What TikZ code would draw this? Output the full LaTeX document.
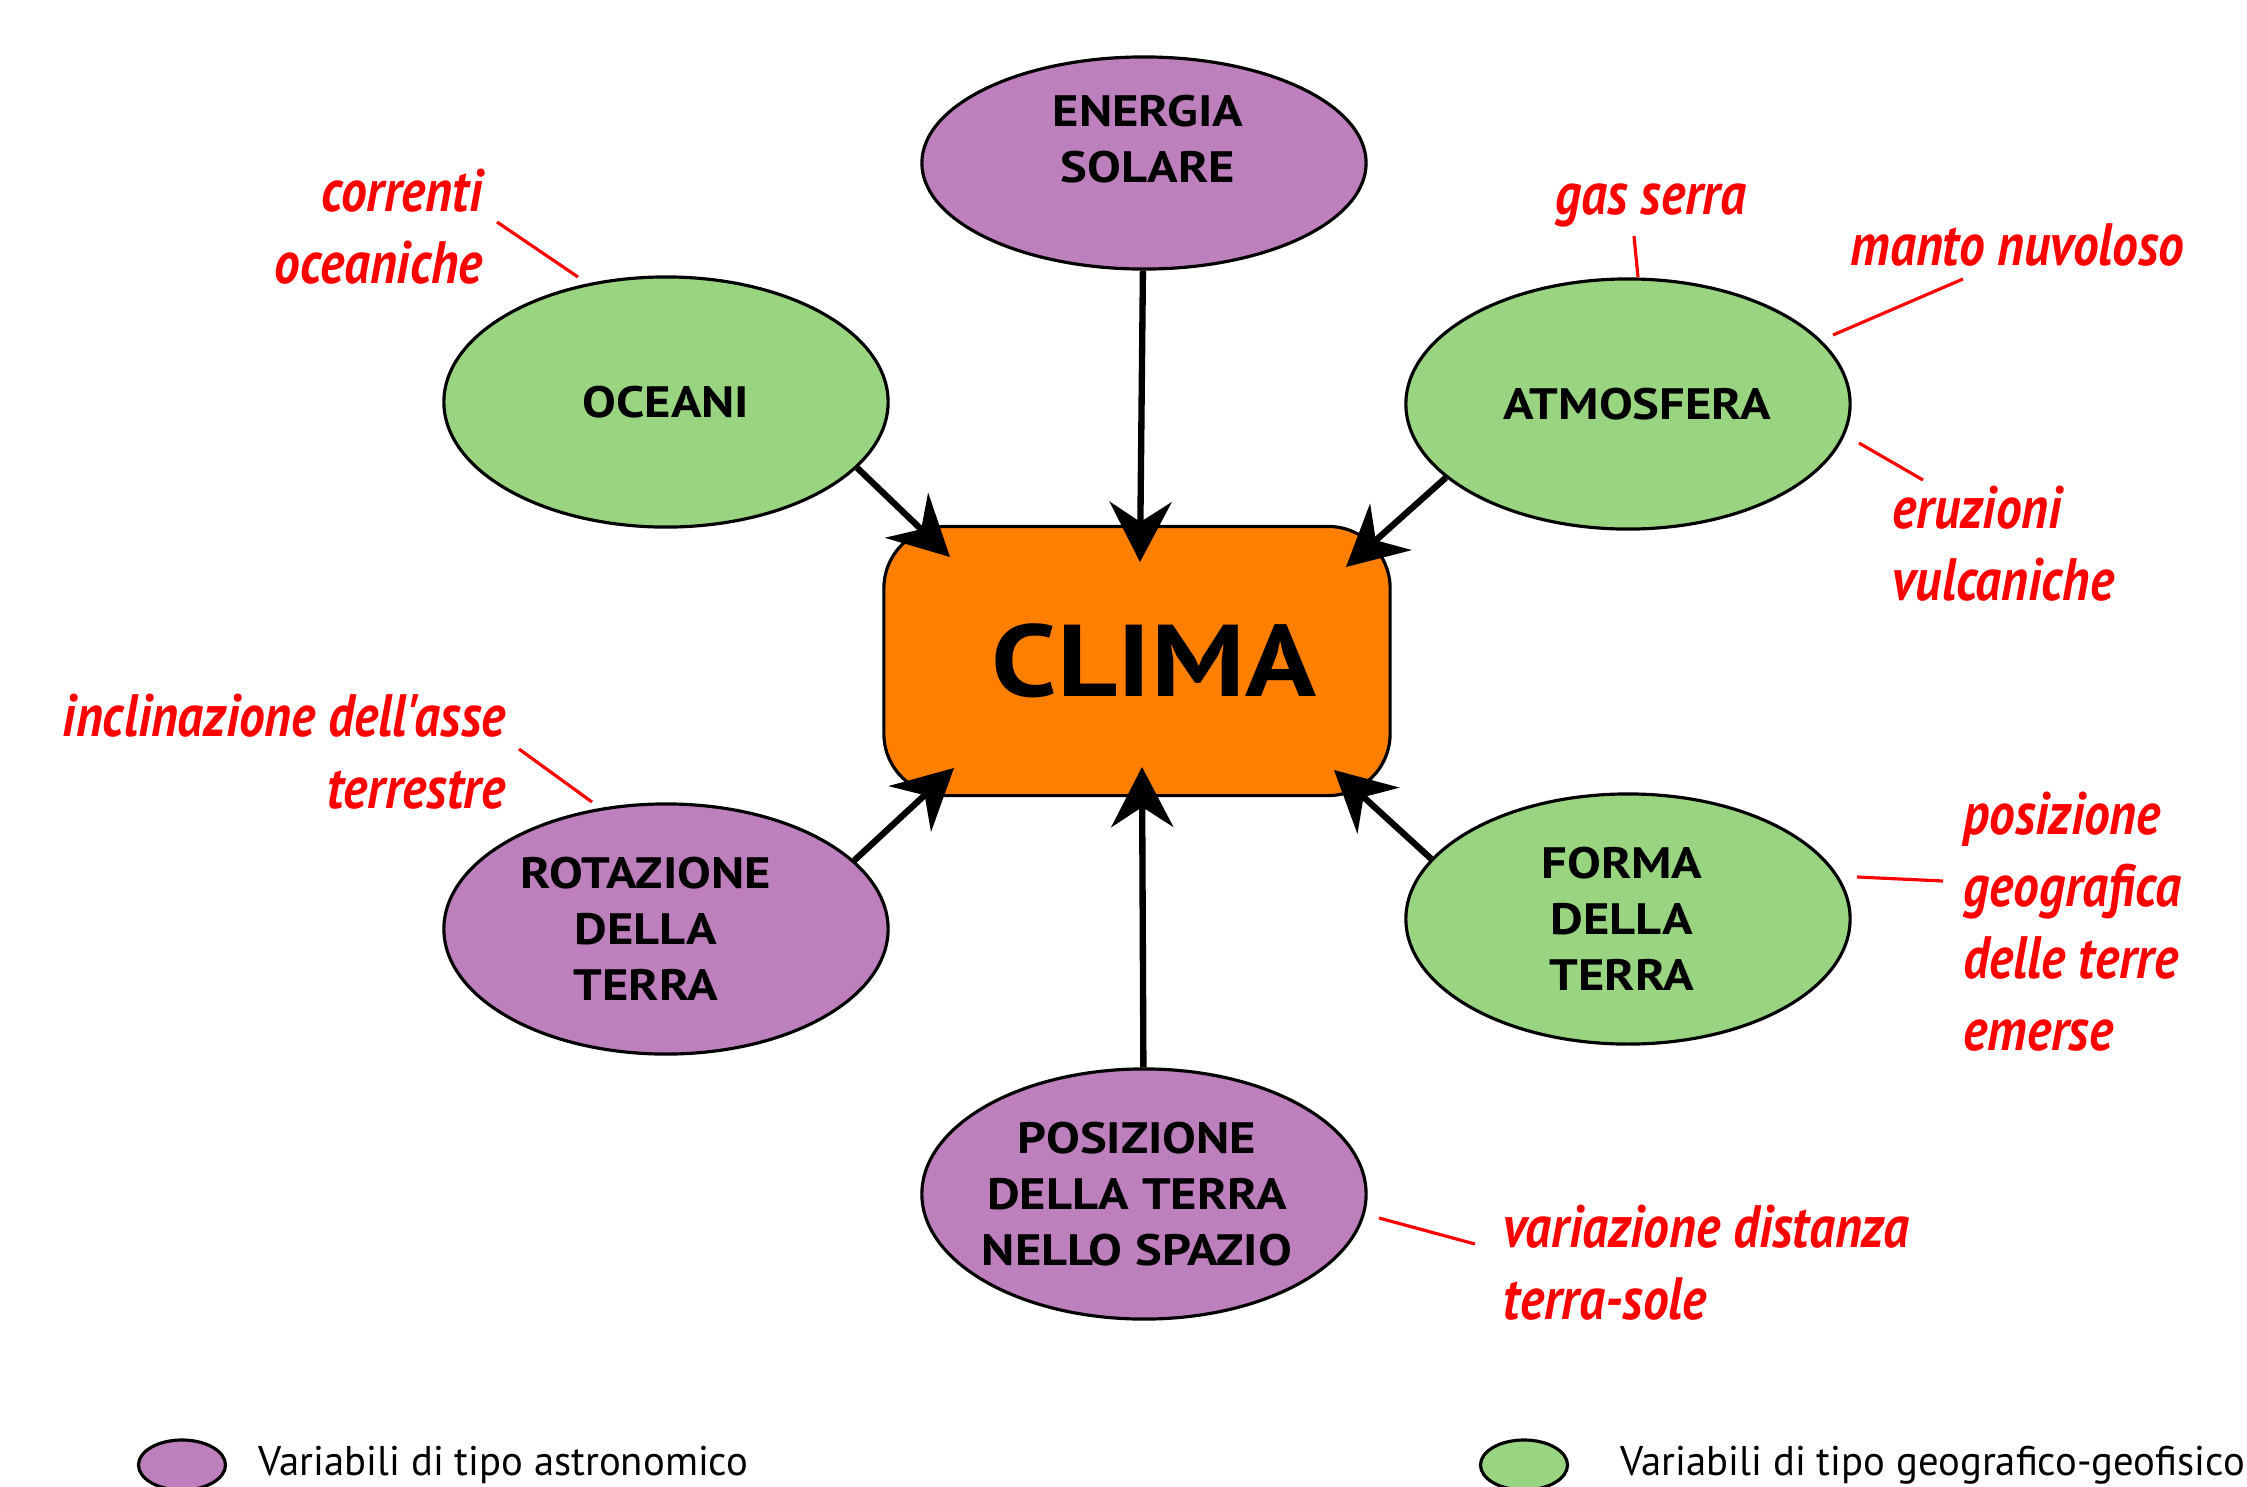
\documentclass[tikz,border=0pt]{standalone}
\usepackage{fontspec}
\setmainfont{PT Sans}
\newfontfamily\nomefont[FakeStretch=1.15]{PT Sans}
\newfontfamily\notafont[FakeStretch=0.86]{PT Sans}
\newfontfamily\legendafont[FakeStretch=0.98]{PT Sans}
\usetikzlibrary{shapes.geometric,arrows.meta}
\definecolor{astroviola}{RGB}{189,128,188}
\definecolor{geoverde}{RGB}{153,213,128}
\definecolor{climarancio}{RGB}{255,128,0}
\tikzset{
	fattore/.style={ellipse, draw, line width=0.9pt, inner sep=0pt, minimum width=4.44cm, minimum height=2.5cm, align=center, font=\nomefont\bfseries\fontsize{12.5}{15.9}\selectfont},
	astro/.style={fattore, fill=astroviola},
	geo/.style={fattore, fill=geoverde},
	nota/.style={text=red, inner sep=0pt, font=\notafont\bfseries\itshape\fontsize{17}{20.5}\selectfont},
	filo/.style={red, line width=0.9pt},
	freccia/.style={line width=1.8pt, -{Stealth[length=0.6cm, width=0.62cm, inset=0.2cm]}},
	legenda/.style={ellipse, draw, line width=0.9pt, inner sep=0pt, minimum width=0.87cm, minimum height=0.5cm}
}

\begin{document}
\begin{tikzpicture}[x=0.01cm, y=-0.01cm]
		%%%%% START %%%%%
		\useasboundingbox (0, 0) rectangle (2247, 1487);
		
		\node[draw, fill=climarancio, line width=0.9pt, rounded corners=0.62cm, minimum width=5.06cm, minimum height=2.69cm, font=\nomefont\bfseries\fontsize{29}{34}\selectfont] (clima) at (1137, 661) {\hspace{0.34cm}CLIMA};
		
		\node[astro, text depth=0.49cm, minimum height=2.12cm] (energia) at (1144, 163) {\hspace*{0.08cm}ENERGIA\\\hspace*{0.08cm}SOLARE};
		\node[geo] (oceani) at (666, 402) {OCEANI};
		\node[geo] (atmosfera) at (1628, 404) {\hspace*{0.18cm}ATMOSFERA};
		\node[astro] (rotazione) at (666, 929) {\hspace*{-0.4cm}ROTAZIONE\\\hspace*{-0.4cm}DELLA\\\hspace*{-0.4cm}TERRA};
		\node[geo] (forma) at (1628, 919) {\hspace*{-0.12cm}FORMA\\\hspace*{-0.12cm}DELLA\\\hspace*{-0.12cm}TERRA};
		\node[astro] (posizione) at (1144, 1194) {\hspace*{-0.14cm}POSIZIONE\\\hspace*{-0.14cm}DELLA TERRA\\\hspace*{-0.14cm}NELLO SPAZIO};
		
		% punte delle frecce dentro il riquadro
		\coordinate (tipN) at (1140, 562);
		\coordinate (tipNW) at (950, 557);
		\coordinate (tipNE) at (1346, 567);
		\coordinate (tipSW) at (954, 768);
		\coordinate (tipS) at (1142, 767);
		\coordinate (tipSE) at (1334, 770);
		
		\draw[freccia] (energia) -- (tipN);
		\draw[freccia] (oceani.-19) -- (tipNW);
		\draw[freccia] (atmosfera.-158) -- (tipNE);
		\draw[freccia] (rotazione.20) -- (tipSW);
		\draw[freccia] (posizione) -- (tipS);
		\draw[freccia] (forma.163) -- (tipSE);
		
		% note in rosso
		\node[nota, align=right, anchor=east] (correnti) at (483, 227) {correnti\\oceaniche};
		\node[nota] (gas) at (1651, 205) {gas serra};
		\node[nota, anchor=west] (manto) at (1850, 245) {manto nuvoloso};
		\node[nota, align=left, anchor=west] (eruzioni) at (1892, 544) {eruzioni\\vulcaniche};
		\node[nota, align=right, anchor=east] (inclinazione) at (506, 752) {inclinazione dell'asse\\terrestre};
		\node[nota, align=left, anchor=west] (geografica) at (1963, 922) {posizione\\geografica\\delle terre\\emerse};
		\node[nota, align=left, anchor=west] (distanza) at (1503, 1263) {variazione distanza\\terra-sole};
		
		\coordinate (f1a) at (497, 222); \coordinate (f1b) at (578, 277);
		\coordinate (f2a) at (1634, 236); \coordinate (f2b) at (1638, 277);
		\coordinate (f3a) at (1963, 279); \coordinate (f3b) at (1833, 335);
		\coordinate (f4a) at (1859, 443); \coordinate (f4b) at (1923, 480);
		\coordinate (f5a) at (519, 749); \coordinate (f5b) at (592, 802);
		\coordinate (f6a) at (1857, 877); \coordinate (f6b) at (1943, 881);
		\coordinate (f7a) at (1379, 1218); \coordinate (f7b) at (1475, 1244);
		\draw[filo] (f1a) -- (f1b);
		\draw[filo] (f2a) -- (f2b);
		\draw[filo] (f3a) -- (f3b);
		\draw[filo] (f4a) -- (f4b);
		\draw[filo] (f5a) -- (f5b);
		\draw[filo] (f6a) -- (f6b);
		\draw[filo] (f7a) -- (f7b);
		
		% legenda
		\node[legenda, fill=astroviola] (legAstro) at (182, 1465) {};
		\node[anchor=base west, inner sep=0pt, font=\legendafont\fontsize{11.8}{14}\selectfont] (txtAstro) at (258, 1475) {Variabili di tipo astronomico};
		\node[legenda, fill=geoverde] (legGeo) at (1524, 1465) {};
		\node[anchor=base west, inner sep=0pt, font=\legendafont\fontsize{11.8}{14}\selectfont] (txtGeo) at (1620, 1475) {Variabili di tipo geografico-geofisico};
		
		%%%%% END %%%%%
	\end{tikzpicture}
\end{document}
